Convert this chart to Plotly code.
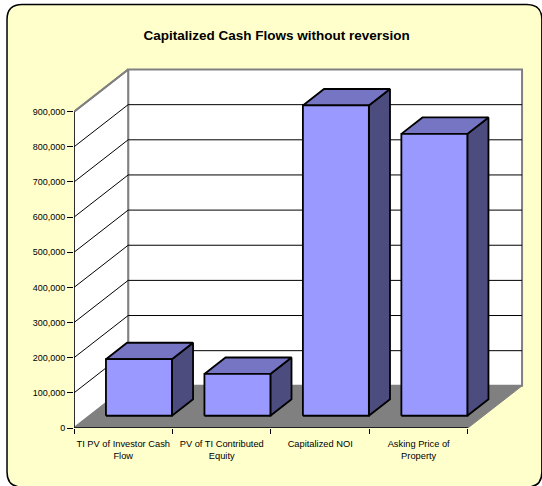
import plotly.graph_objects as go

# ---- data ----
categories = ["TI PV of Investor Cash<br>Flow", "PV of TI Contributed<br>Equity",
              "Capitalized NOI", "Asking Price of<br>Property"]
values = [161000, 119000, 883000, 802000]
y_ticks = list(range(0, 900001, 100000))
title = "<b>Capitalized Cash Flows without reversion</b>"

# ---- styling / geometry ----
W, H = 542, 486
FONT = "Arial, Liberation Sans, sans-serif"
DX = 0.55          # depth offset in category units
DY = 120000        # depth offset in value units
D0, BD = 0.29, 0.39  # bar front depth, bar depth thickness
HW = 0.335         # half bar width
YMAX = 900000
FRONT_COL, TOP_COL, SIDE_COL = "#9999FF", "#7575C4", "#4C4C7E"
GRAY = "#808080"

n = len(categories)
xs = list(range(n))
x0, x1 = -0.5, n - 0.5
xr = [x0, x1 + DX + 0.03]
yr = [0, YMAX + DY + 10000]
px_x = 98.5
px_y = 35.1 / 100000
L, B = 74, 58
plot_w = (xr[1] - xr[0]) * px_x
plot_h = (yr[1] - yr[0]) * px_y
R = W - L - plot_w
T = H - B - plot_h

fig = go.Figure()

def poly(xx, yy, fill, line_col, lw):
    fig.add_trace(go.Scatter(x=xx + [xx[0]], y=yy + [yy[0]], mode="lines", fill="toself",
                             fillcolor=fill, line=dict(color=line_col, width=lw),
                             hoverinfo="skip", showlegend=False))

def seg(xx, yy, col, lw):
    fig.add_trace(go.Scatter(x=xx, y=yy, mode="lines", line=dict(color=col, width=lw),
                             hoverinfo="skip", showlegend=False))

# back wall
poly([x0 + DX, x1 + DX, x1 + DX, x0 + DX], [DY, DY, YMAX + DY, YMAX + DY], "white", GRAY, 2)
# left wall
poly([x0, x0 + DX, x0 + DX, x0], [0, DY, YMAX + DY, YMAX], "white", GRAY, 2)
# floor
poly([x0, x1, x1 + DX, x0 + DX], [0, 0, DY, DY], GRAY, GRAY, 1)
# gridlines
for v in y_ticks[1:-1]:
    seg([x0 + DX, x1 + DX], [v + DY, v + DY], "black", 1)
    seg([x0, x0 + DX], [v, v + DY], "black", 1)
seg([x0, x0 + DX], [YMAX, YMAX + DY], GRAY, 2)
# axes lines
seg([x0, x0], [0, YMAX], "black", 1.3)
seg([x0, x1], [0, 0], "black", 1.3)

# bars
for x, v in zip(xs, values):
    xl = x - HW + D0 * DX
    xrr = x + HW + D0 * DX
    yb = D0 * DY
    yt = v + D0 * DY
    ddx, ddy = BD * DX, BD * DY
    poly([xrr, xrr + ddx, xrr + ddx, xrr], [yb, yb + ddy, yt + ddy, yt], SIDE_COL, "black", 1.8)
    poly([xl, xrr, xrr + ddx, xl + ddx], [yt, yt, yt + ddy, yt + ddy], TOP_COL, "black", 1.8)
    poly([xl, xrr, xrr, xl], [yb, yb, yt, yt], FRONT_COL, "black", 1.8)

# rounded frame (pixel geometry converted to paper coords)
def px2p(px, py):
    return (px - L) / plot_w, (H - B - py) / plot_h

fx0, fy0, fx1, fy1, rr = 7, 5, 542, 487, 15
def P(px, py):
    a, b = px2p(px, py)
    return f"{a:.5f},{b:.5f}"
path = (f"M {P(fx0 + rr, fy0)} L {P(fx1 - rr, fy0)} Q {P(fx1, fy0)} {P(fx1, fy0 + rr)} "
        f"L {P(fx1, fy1 - rr)} Q {P(fx1, fy1)} {P(fx1 - rr, fy1)} "
        f"L {P(fx0 + rr, fy1)} Q {P(fx0, fy1)} {P(fx0, fy1 - rr)} "
        f"L {P(fx0, fy0 + rr)} Q {P(fx0, fy0)} {P(fx0 + rr, fy0)} Z")
fig.add_shape(type="path", path=path, xref="paper", yref="paper", layer="below",
              fillcolor="#FFFFCC", line=dict(color="black", width=1.5))

fig.update_layout(
    width=W, height=H,
    margin=dict(l=L, r=R, t=T, b=B, pad=0),
    paper_bgcolor="white", plot_bgcolor="rgba(0,0,0,0)",
    title=dict(text=title, x=276.7 / W, xanchor="center", y=1 - 35 / H, yanchor="middle",
               font=dict(family=FONT, size=13.5, color="black")),
    font=dict(family=FONT, size=9, color="black"),
    xaxis=dict(range=xr, tickvals=xs, ticktext=categories, ticks="", showgrid=False,
               zeroline=False, showline=False, tickfont=dict(size=9.3, color="black"),
               ticklabelstandoff=9,
               minor=dict(tickvals=[x0 + i for i in range(n + 1)], ticks="outside",
                          ticklen=5, tickcolor="black", tickwidth=1)),
    yaxis=dict(range=yr, tickvals=y_ticks, tickformat=",", ticks="outside", ticklen=6,
               tickcolor="black", tickwidth=1, showgrid=False, zeroline=False,
               showline=False, tickfont=dict(size=9, color="black")),
)

fig.write_html("out.html")
